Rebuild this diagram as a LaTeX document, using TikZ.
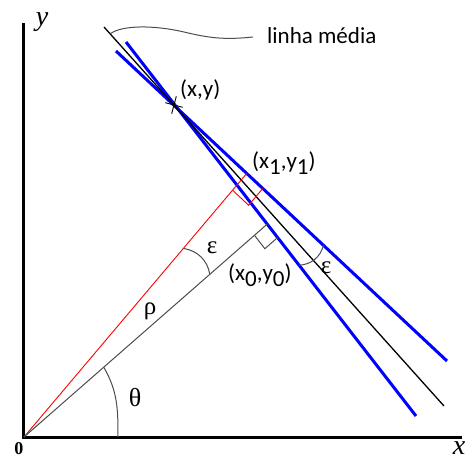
\documentclass[tikz,border=0pt]{standalone}
\usepackage{fontspec}
\setmainfont{Carlito}
\newfontfamily\timesfont{Liberation Serif}
\usetikzlibrary{calc}

\begin{document}
\begin{tikzpicture}[
    x=1pt, y=1pt,
    every node/.style={font=\fontsize{23}{26}\selectfont, inner sep=0pt},
    axis/.style={line width=3pt},
    medline/.style={line width=1.3pt, black},
    bound/.style={line width=3pt, blue},
    normgray/.style={line width=1pt, black!70},
    normred/.style={line width=0.9pt, red},
    angarc/.style={line width=1pt, black!70},
    greek/.style={font=\timesfont\fontsize{25}{26}\selectfont},
    axlbl/.style={font=\timesfont\itshape\fontsize{28}{30}\selectfont},
]
\useasboundingbox (-24,-22) rectangle (445,437);

% === Axes ===
\coordinate (O) at (0,0);
\coordinate (xend) at (438,0);
\coordinate (yend) at (0,414);
\draw[axis] (xend) -- (O) -- (yend);
\node[axlbl, anchor=base] (ylbl) at (18,411) {y};
\node[axlbl, anchor=base] (xlbl) at (435,-17) {x};
\node[font=\timesfont\bfseries\fontsize{18}{20}\selectfont] (zero) at (-5,-12) {0};

% === Middle line and its two bounds through (x,y) ===
\coordinate (P) at (150,332);
\coordinate (m1) at (80,410);
\coordinate (m2) at (420,31);
\coordinate (bA1) at (102,395);
\coordinate (bA2) at (392,21);
\coordinate (bB1) at (92,386);
\coordinate (bB2) at (423,76);
\draw[bound] (bA1) -- (bA2);
\draw[bound] (bB1) -- (bB2);
\draw[medline] (m1) -- (m2);

% point (x,y)
\draw[line width=0.9pt, rotate around={-15:(P)}]
    ($(P)+(-9,0)$) -- ($(P)+(9,0)$)
    ($(P)+(0,-9)$) -- ($(P)+(0,9)$);
\node[anchor=base west] (plbl) at (156,340) {(x,y)};

% label of the middle line
\coordinate (lm) at ($(m1)!0.018!(m2)$);
\coordinate (lmend) at (229,400);
\draw[angarc] (lm) .. controls (98,412) and (130,412) .. (160,405)
    .. controls (185,399) and (200,397) .. (lmend);
\node[anchor=base west] (lmlbl) at (243,393) {linha média};

% === Normals from the origin ===
\coordinate (g) at (41.2:100);
\coordinate (r) at (49.8:100);
\coordinate (F0) at (intersection of O--g and bA1--bA2);
\coordinate (F1) at (intersection of O--r and bB1--bB2);
\draw[normred] (O) -- (F1);
\draw[normgray] (O) -- (F0);

% right-angle marks
\foreach \ft/\ln/\col/\sz in {F0/bA2/normgray/17, F1/bB2/normred/22} {
    \coordinate (ra) at ($(\ft)!\sz pt!(O)$);
    \coordinate (rb) at ($(\ft)!\sz pt!(\ln)$);
    \draw[\col] (ra) -- ($(ra)+(rb)-(\ft)$) -- (rb);
}

\node[anchor=base west] (f1lbl) at (228,269) {(x\raisebox{-6pt}{1},y\raisebox{-6pt}{1})};
\node[anchor=base west] (f0lbl) at (204,157) {(x\raisebox{-6pt}{0},y\raisebox{-6pt}{0})};

% === Angles ===
\coordinate (t1) at (41.2:106);
\coordinate (t2) at (94,0);
\draw[angarc] (t1) to[out=-60, in=90] (t2);
\node[greek, font=\timesfont\fontsize{26}{28}\selectfont] (theta) at (111,39) {θ};

\coordinate (e1a) at (49.8:247);
\coordinate (e1b) at (41.2:247);
\draw[angarc] (e1a) to[out=-10, in=100] (e1b);
\node[greek] (eps1) at (188,189) {ε};

\coordinate (e2a) at ($(P)!203pt!(bA2)$);
\coordinate (e2b) at ($(P)!205pt!(bB2)$);
\draw[angarc] (e2a) to[out=2, in=-105] (e2b);
\node[greek] (eps2) at (302,169) {ε};

\node[greek] (rho) at (126,126) {ρ};

\end{tikzpicture}
\end{document}
